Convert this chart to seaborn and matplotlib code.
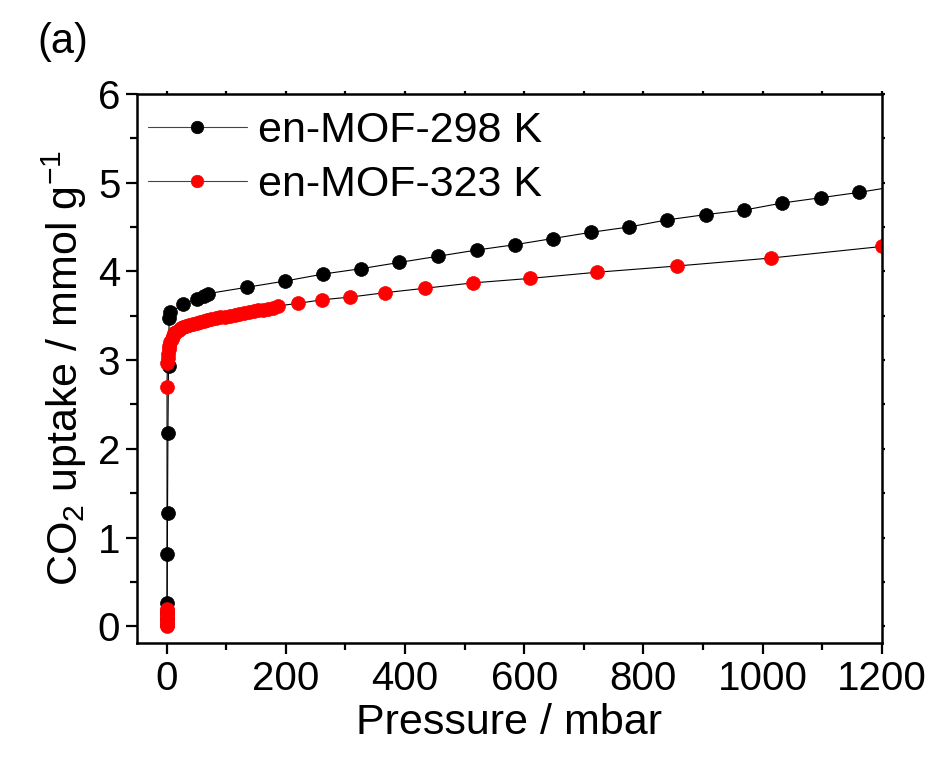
import matplotlib
matplotlib.use("Agg")
import matplotlib.pyplot as plt
import numpy as np
import pandas as pd
import seaborn as sns
from matplotlib.ticker import MultipleLocator

# ---- data ----
p298 = [0.2, 0.3, 0.5, 0.7, 1.0, 1.3, 2.0, 3.0, 4.0, 6.0, 28, 51, 62, 70, 134, 198, 263, 326,
        390, 455, 520, 584, 648, 712, 776, 840, 905, 969, 1033, 1098, 1162, 1226]
u298 = [0.02, 0.08, 0.15, 0.26, 0.81, 1.28, 2.18, 2.93, 3.47, 3.54, 3.63, 3.69, 3.72, 3.75, 3.82, 3.89,
        3.97, 4.03, 4.10, 4.17, 4.24, 4.30, 4.37, 4.44, 4.50, 4.58, 4.64, 4.69, 4.77, 4.83, 4.89, 4.96]

p323 = [0.1, 0.15, 0.2, 0.25, 0.3, 0.35, 0.4, 0.45, 0.5, 1.0, 1.5, 2, 3, 4, 6, 8, 10, 13, 16, 20, 24,
        28, 33, 38, 44, 50, 56, 62, 68, 75, 82, 90, 98, 106, 114, 122, 130, 138, 146, 154, 162,
        170, 178, 186, 221, 261, 308, 367, 434, 514, 609, 722, 856, 1014, 1200]
u323 = [0.00, 0.03, 0.06, 0.09, 0.12, 0.15, 0.18, 0.20, 2.70, 2.97, 3.02, 3.07, 3.12, 3.16, 3.20, 3.24,
        3.27, 3.30, 3.32, 3.34, 3.36, 3.37, 3.38, 3.40, 3.41, 3.42, 3.43, 3.44, 3.45, 3.46, 3.47,
        3.48, 3.49, 3.50, 3.51, 3.52, 3.53, 3.54, 3.55, 3.56, 3.57, 3.58, 3.59, 3.61, 3.64, 3.68,
        3.71, 3.76, 3.81, 3.87, 3.92, 3.99, 4.06, 4.15, 4.28]

series_labels = ["en-MOF-298 K", "en-MOF-323 K"]
marker_colors = ["black", "red"]

x_ticks = [0, 200, 400, 600, 800, 1000, 1200]
y_ticks = [0, 1, 2, 3, 4, 5, 6]

# ---- style ----
sns.set_style("ticks")
plt.rcParams["font.family"] = ["Liberation Sans", "DejaVu Sans"]
plt.rcParams["mathtext.fontset"] = "custom"
plt.rcParams["mathtext.rm"] = "Liberation Sans"
plt.rcParams["mathtext.it"] = "Liberation Sans"
plt.rcParams["mathtext.default"] = "regular"
plt.rcParams["text.color"] = "black"
plt.rcParams["axes.labelcolor"] = "black"
plt.rcParams["xtick.color"] = "black"
plt.rcParams["ytick.color"] = "black"

df = pd.concat([
    pd.DataFrame({"p": p298, "u": u298, "series": series_labels[0]}),
    pd.DataFrame({"p": p323, "u": u323, "series": series_labels[1]}),
], ignore_index=True)

fig = plt.figure(figsize=(9.38, 7.63), dpi=100)
ax = fig.add_axes([0.146, 0.157, 0.794, 0.720])

for lab, mc in zip(series_labels, marker_colors):
    d = df[df["series"] == lab]
    sns.lineplot(data=d, x="p", y="u", estimator=None, sort=False, ax=ax,
                 color="black", linewidth=0.8, marker="o", markersize=10,
                 markerfacecolor=mc, markeredgecolor=mc, markeredgewidth=0.5,
                 label=lab)

ax.set_xlim(-50, 1200)
ax.set_ylim(-0.19, 6)
ax.set_xticks(x_ticks)
ax.set_yticks(y_ticks)
ax.xaxis.set_minor_locator(MultipleLocator(100))
ax.yaxis.set_minor_locator(MultipleLocator(0.5))

for s in ax.spines.values():
    s.set_linewidth(1.8)
    s.set_color("black")

ax.tick_params(axis="both", which="major", direction="out", length=8, width=1.6,
               labelsize=29, colors="black", pad=4)
ax.tick_params(axis="both", which="minor", direction="out", length=5, width=1.6, colors="black")
ax.tick_params(top=True, right=True, which="both")
for t in ax.xaxis.get_major_ticks() + ax.xaxis.get_minor_ticks():
    t.tick2line.set_markersize(2.5)
for t in ax.yaxis.get_major_ticks() + ax.yaxis.get_minor_ticks():
    t.tick2line.set_markersize(2.5)

ax.set_xlabel("Pressure / mbar", fontsize=31, labelpad=4)
ax.set_ylabel("CO$_2$ uptake / mmol g$^{-1}$", fontsize=31, labelpad=6)

leg = ax.legend(loc="upper left", bbox_to_anchor=(-0.026, 1.024), frameon=False, fontsize=31,
                handlelength=2.3, handletextpad=0.25, labelspacing=0.32, borderaxespad=0.3)
for h in leg.legend_handles:
    h.set_markersize(9)
    h.set_color("#444444")
    h.set_linewidth(0.8)
for h, mc in zip(leg.legend_handles, marker_colors):
    h.set_markerfacecolor(mc)
    h.set_markeredgecolor(mc)

fig.text(0.04, 0.945, "(a)", fontsize=30, va="center", ha="left")

fig.savefig("out.png", dpi=100)
